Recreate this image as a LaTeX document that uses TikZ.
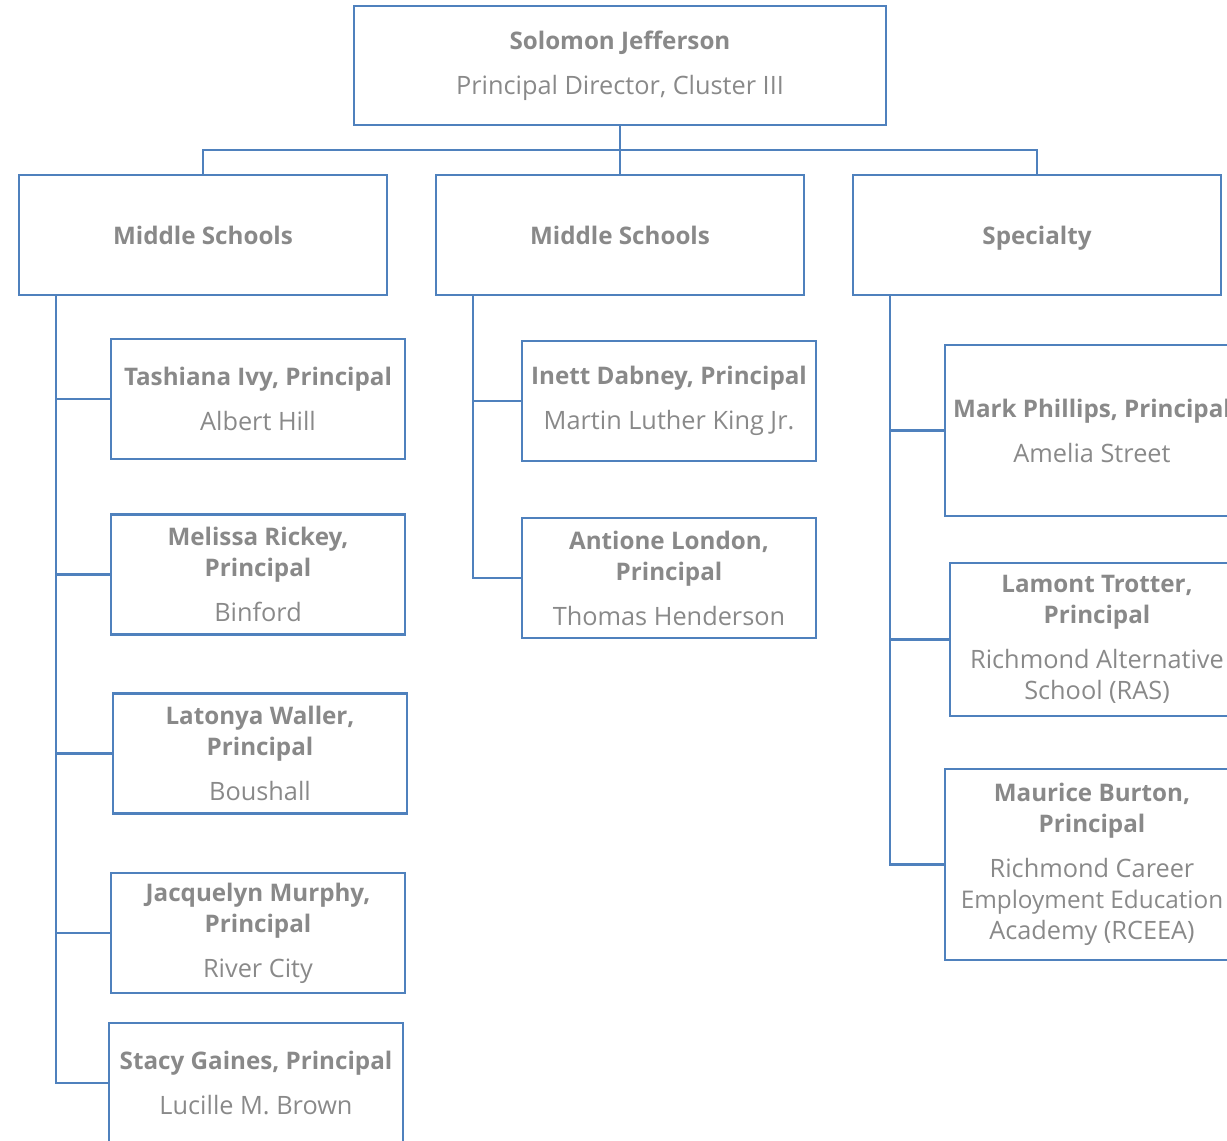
\documentclass[tikz,border=0pt]{standalone}
\usepackage{fontspec}
\setmainfont{Open Sans}
\usetikzlibrary{positioning}
\definecolor{lineblue}{RGB}{79,129,189}
\definecolor{txtgray}{RGB}{137,137,137}
\newcommand{\nm}[1]{{\fontsize{24.2}{31}\selectfont\bfseries #1}}
\begin{document}
\begin{tikzpicture}[x=1pt, y=-1pt, line width=2.5pt,
    every node/.style={font=\fontsize{25.3}{31}\selectfont, text=txtgray, align=center, inner sep=0pt},
    main node/.style={rectangle, draw=lineblue, minimum width=368pt, minimum height=120pt},
    sub node/.style={rectangle, draw=lineblue, minimum width=294pt, minimum height=120pt},
    link/.style={draw=lineblue}]

    \useasboundingbox (0,0) rectangle (1227,1141);
    \clip (0,0) rectangle (1227,1141);

    % director
    \node[main node, minimum width=532pt, minimum height=119pt] at (620, 65.5) (top) {\nm{Solomon Jefferson}\\[14pt]Principal Director, Cluster III};

    % groups
    \node[main node] at (203, 235) (ms1) {\nm{Middle Schools}};
    \node[main node] at (620, 235) (ms2) {\nm{Middle Schools}};
    \node[main node, text depth=0pt] at (1037, 235) (spec) {\nm{Specialty}};

    % first middle school column
    \node[sub node] at (258, 399) (ivy) {\nm{Tashiana Ivy, Principal}\\[14pt]Albert Hill};
    \node[sub node] at (258, 574.5) (rickey) {\nm{Melissa Rickey,}\\\nm{Principal}\\[14pt]Binford};
    \node[sub node] at (260, 753.5) (waller) {\nm{Latonya Waller,}\\\nm{Principal}\\[14pt]Boushall};
    \node[sub node] at (258, 933) (murphy) {\nm{Jacquelyn Murphy,}\\\nm{Principal}\\[14pt]River City};
    \node[sub node] at (256, 1083) (gaines) {\nm{Stacy Gaines, Principal}\\[14pt]Lucille M. Brown};

    % second middle school column
    \node[sub node] at (669, 401) (dabney) {\nm{Inett Dabney, Principal}\\[14pt]Martin Luther King Jr.};
    \node[sub node] at (669, 578) (london) {\nm{Antione London,}\\\nm{Principal}\\[14pt]Thomas Henderson};

    % specialty column
    \node[sub node, minimum height=171pt] at (1092, 430.5) (phillips) {\nm{Mark Phillips, Principal}\\[14pt]Amelia Street};
    \node[sub node, minimum height=153pt] at (1097, 639.5) (trotter) {\nm{Lamont Trotter,}\\\nm{Principal}\\[14pt]Richmond Alternative\\School (RAS)};
    \node[sub node, minimum height=191pt] at (1092, 864.5) (burton) {\nm{Maurice Burton,}\\\nm{Principal}\\[14pt]Richmond Career\\{\fontsize{24.3}{31}\selectfont Employment Education}\\Academy (RCEEA)};

    \coordinate (bus) at (620, 150);

    \path[link] (top) -- (ms2);
    \path[link] (bus) -| (ms1.north);
    \path[link] (bus) -| (spec.north);

    \foreach \n in {ivy, rickey, waller, murphy, gaines}
        \path[link] ([xshift=38pt]ms1.south west) |- (\n.west);
    \foreach \n in {dabney, london}
        \path[link] ([xshift=38pt]ms2.south west) |- (\n.west);
    \foreach \n in {phillips, trotter, burton}
        \path[link] ([xshift=38pt]spec.south west) |- (\n.west);

\end{tikzpicture}
\end{document}
